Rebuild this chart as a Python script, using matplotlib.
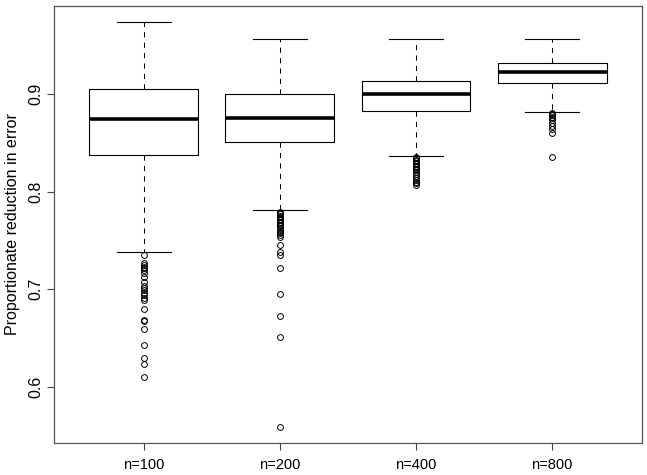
import matplotlib
matplotlib.use("Agg")
import matplotlib.pyplot as plt

plt.rcParams['font.family'] = ['Liberation Sans', 'DejaVu Sans']

labels = ["n=100", "n=200", "n=400", "n=800"]
whislo = [0.7376, 0.7807, 0.8364, 0.8815]
q1 = [0.8378, 0.8511, 0.8822, 0.9116]
med = [0.8740, 0.8757, 0.9003, 0.9222]
q3 = [0.9054, 0.8997, 0.9137, 0.9318]
whishi = [0.9735, 0.9561, 0.9564, 0.9561]

out100 = [0.7352, 0.7263, 0.7246, 0.7229, 0.7212, 0.7195, 0.7161, 0.7120,
          0.7075, 0.7031, 0.7010, 0.6990, 0.6962, 0.6935, 0.6908, 0.6887,
          0.6798, 0.6682, 0.6669, 0.6587, 0.6423, 0.6292, 0.6228, 0.6094]
out200 = [0.7795, 0.7780, 0.7765, 0.7750, 0.7735, 0.7720, 0.7705, 0.7690,
          0.7675, 0.7660, 0.7645, 0.7630, 0.7610, 0.7590, 0.7570, 0.7550,
          0.7535, 0.7450, 0.7385, 0.7350, 0.7219, 0.6949, 0.6726, 0.6505,
          0.5588]
out400 = [0.8355, 0.8340, 0.8325, 0.8310, 0.8295, 0.8280, 0.8265, 0.8250,
          0.8235, 0.8220, 0.8200, 0.8180, 0.8160, 0.8140, 0.8120, 0.8100,
          0.8085, 0.8067]
out800 = [0.8810, 0.8795, 0.8780, 0.8765, 0.8750, 0.8730, 0.8700, 0.8670,
          0.8640, 0.8600, 0.8354]
outliers = [out100, out200, out400, out800]

yticks = [0.6, 0.7, 0.8, 0.9]
ylabel = "Proportionate reduction in error"

stats = []
for i in range(len(labels)):
    stats.append(dict(label=labels[i], whislo=whislo[i], q1=q1[i], med=med[i],
                      q3=q3[i], whishi=whishi[i], fliers=outliers[i]))

fig = plt.figure(figsize=(6.47, 4.75), dpi=100)
ax = fig.add_axes([54/647, 1-443/475, 588/647, 437/475])

ax.bxp(stats, positions=range(1, len(labels)+1), widths=0.8,
       boxprops=dict(color='black', linewidth=0.8),
       medianprops=dict(color='black', linewidth=2.6, solid_capstyle='butt'),
       whiskerprops=dict(color='black', linewidth=0.75, linestyle=(0, (5, 5))),
       capprops=dict(color='black', linewidth=0.8),
       capwidths=0.4,
       flierprops=dict(marker='o', markerfacecolor='none', markeredgecolor='black',
                       markersize=4.2, markeredgewidth=0.7, linestyle='none'))

ax.set_xlim(0.34, 4.66)
ax.set_ylim(0.5421, 0.9903)
ax.set_yticks(yticks)
ax.set_yticklabels([f"{v:.1f}" for v in yticks], rotation=90, va='center')
ax.set_xticks(range(1, len(labels)+1))
ax.set_xticklabels(labels)
ax.tick_params(axis='both', direction='out', length=5, width=0.8,
               color='#444444')
ax.tick_params(axis='y', pad=3, labelsize=11.5)
ax.tick_params(axis='x', pad=6, labelsize=10.5)
for s in ax.spines.values():
    s.set_color('#555555')
    s.set_linewidth(0.9)
ax.set_ylabel(ylabel, fontsize=11.5, labelpad=6)

fig.savefig("out.png", dpi=100)
